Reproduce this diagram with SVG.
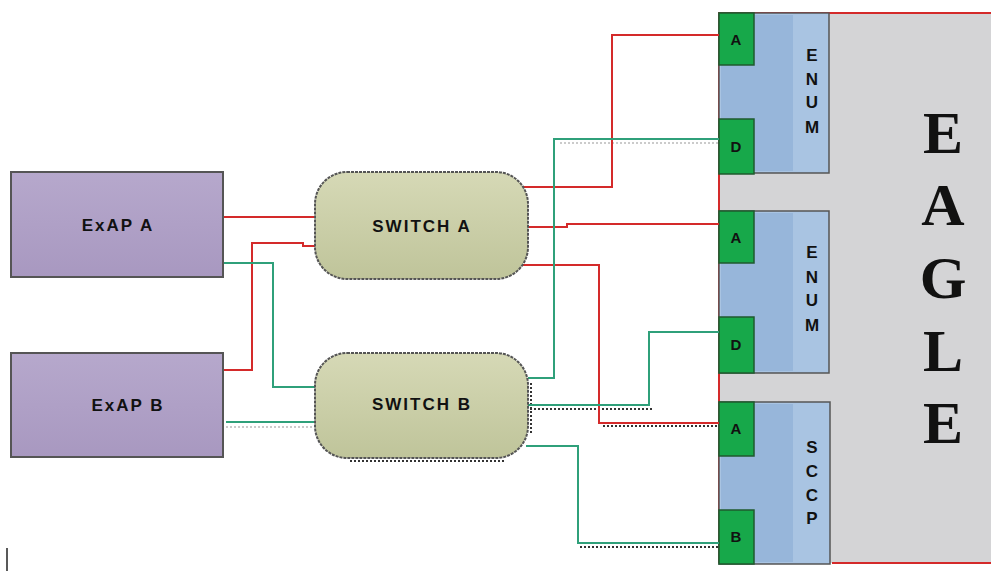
<svg xmlns="http://www.w3.org/2000/svg" width="991" height="573" viewBox="0 0 991 573">
<defs>
<linearGradient id="gExap" x1="0" y1="0" x2="0" y2="1"><stop offset="0" stop-color="#b6a8cc"/><stop offset="1" stop-color="#a898c0"/></linearGradient>
<linearGradient id="gSw" x1="0" y1="0" x2="0" y2="1"><stop offset="0" stop-color="#d6d9b6"/><stop offset="1" stop-color="#bfc49a"/></linearGradient>
</defs>
<style>
.exap{fill:url(#gExap);stroke:#555;stroke-width:2}
.sw{fill:url(#gSw);stroke:#555;stroke-width:2;stroke-dasharray:3 1}
.lbl{font-family:"Liberation Sans",Arial,sans-serif;font-weight:bold;font-size:17px;letter-spacing:2px;fill:#111;text-anchor:middle}
.panel{fill:#a9c4e2;stroke:#555;stroke-width:1.5}
.pdark{fill:#97b6da}
.port{fill:#17a84a;stroke:#1f5a2e;stroke-width:1.5}
.plbl{font-family:"Liberation Sans",Arial,sans-serif;font-weight:bold;font-size:15px;fill:#111;text-anchor:middle}
.vl{font-family:"Liberation Sans",Arial,sans-serif;font-weight:bold;font-size:17px;fill:#111;text-anchor:middle}
.eagle{font-family:"Liberation Serif","Times New Roman",serif;font-weight:bold;font-size:60px;fill:#111;text-anchor:middle}
.red{fill:none;stroke:#d42a2a;stroke-width:2}
.grn{fill:none;stroke:#2fa07a;stroke-width:2}
.dot{fill:none;stroke:#333;stroke-width:2;stroke-dasharray:2 2}
.ldot{fill:none;stroke:#bbb;stroke-width:1.5;stroke-dasharray:2 2}
</style>
<rect width="991" height="573" fill="#fff"/>
<g id="eagle">
<rect x="719" y="13" width="280" height="550" fill="#d4d4d6"/>
<path d="M719 563 V13 H991" fill="none" stroke="#d42a2a" stroke-width="2"/>
<path d="M832 563 H991" fill="none" stroke="#d42a2a" stroke-width="2"/>
<text class="eagle" x="943" y="153">E</text>
<text class="eagle" x="943" y="225">A</text>
<text class="eagle" x="943" y="298">G</text>
<text class="eagle" x="943" y="371">L</text>
<text class="eagle" x="943" y="443">E</text>
</g>
<g id="enum1">
<rect class="panel" x="719" y="13" width="110" height="160"/>
<rect class="pdark" x="721" y="15" width="72" height="156"/>
<rect class="port" x="719" y="13" width="35" height="52"/>
<rect class="port" x="719" y="119" width="35" height="55"/>
<text class="plbl" x="736" y="45">A</text>
<text class="plbl" x="736" y="152">D</text>
<text class="vl" x="812" y="61">E</text>
<text class="vl" x="812" y="85">N</text>
<text class="vl" x="812" y="108">U</text>
<text class="vl" x="812" y="133">M</text>
</g>
<g id="enum2">
<rect class="panel" x="719" y="211" width="110" height="162"/>
<rect class="pdark" x="721" y="213" width="72" height="158"/>
<rect class="port" x="719" y="211" width="35" height="52"/>
<rect class="port" x="719" y="317" width="35" height="56"/>
<text class="plbl" x="736" y="243">A</text>
<text class="plbl" x="736" y="350">D</text>
<text class="vl" x="812" y="258">E</text>
<text class="vl" x="812" y="283">N</text>
<text class="vl" x="812" y="306">U</text>
<text class="vl" x="812" y="331">M</text>
</g>
<g id="sccp">
<rect class="panel" x="719" y="402" width="111" height="162"/>
<rect class="pdark" x="721" y="404" width="72" height="158"/>
<rect class="port" x="719" y="402" width="35" height="54"/>
<rect class="port" x="719" y="510" width="35" height="54"/>
<text class="plbl" x="736" y="434">A</text>
<text class="plbl" x="736" y="542">B</text>
<text class="vl" x="812" y="453">S</text>
<text class="vl" x="812" y="477">C</text>
<text class="vl" x="812" y="501">C</text>
<text class="vl" x="812" y="524">P</text>
</g>
<g id="connectors">
<path class="ldot" d="M226 427 H312"/>
<path class="ldot" d="M560 143 H718"/>
<path class="dot" d="M531 383 V435"/>
<path class="dot" d="M350 461 H505"/>
<path class="dot" d="M530 409 H652"/>
<path class="dot" d="M603 426 H718"/>
<path class="dot" d="M580 547 H718"/>
<path class="red" d="M223 217 H315"/>
<path class="red" d="M223 370 H252 V243 H303 V246 H315"/>
<path class="red" d="M522 187 H612 V35 H719"/>
<path class="red" d="M528 227 H567 V224 H719"/>
<path class="red" d="M522 265 H599 V423 H719"/>
<path class="grn" d="M214 263 H273 V387 H315"/>
<path class="grn" d="M226 422 H315"/>
<path class="grn" d="M528 378 H554 V139 H719"/>
<path class="grn" d="M528 405 H649 V332 H719"/>
<path class="grn" d="M526 446 H578 V543 H719"/>
</g>
<g id="exapA">
<rect class="exap" x="11" y="172" width="212" height="105"/>
<text class="lbl" x="118" y="231">ExAP A</text>
</g>
<g id="exapB">
<rect class="exap" x="11" y="353" width="212" height="104"/>
<text class="lbl" x="128" y="411">ExAP B</text>
</g>
<g id="switchA">
<rect class="sw" x="315" y="172" width="213" height="107" rx="32" ry="32"/>
<text class="lbl" x="422" y="232">SWITCH A</text>
</g>
<g id="switchB">
<rect class="sw" x="315" y="353" width="213" height="105" rx="32" ry="32"/>
<text class="lbl" x="422" y="410">SWITCH B</text>
</g>
<path d="M7 548 V571" stroke="#222" stroke-width="1.5"/>
</svg>
